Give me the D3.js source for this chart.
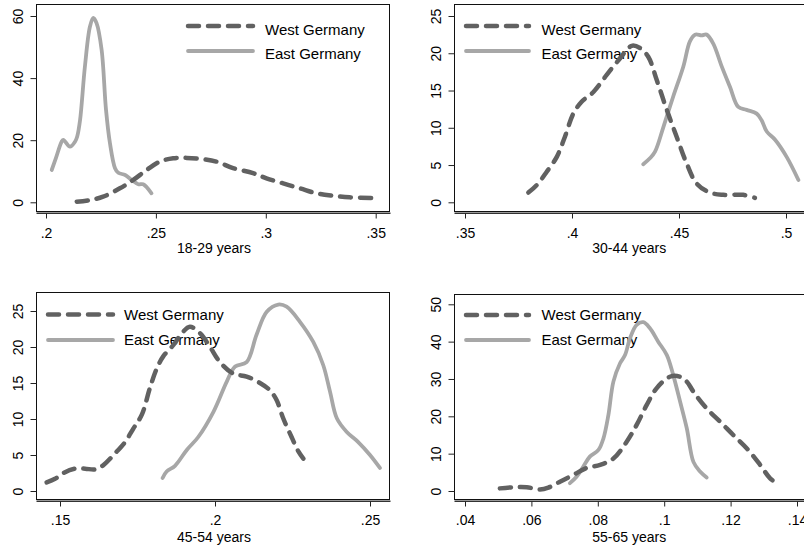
<!DOCTYPE html>
<html>
<head>
<meta charset="utf-8">
<script src="https://cdn.jsdelivr.net/npm/d3@7"></script>
<style>
  body { margin: 0; background: #fff; }
  svg { display: block; font-family: "Liberation Sans", Arial, sans-serif; }
</style>
</head>
<body>
<svg width="804" height="549"></svg>
<script>
/* ---------------- data ---------------- */
var ageGroups = ['18-29 years', '30-44 years', '45-54 years', '55-65 years'];
var seriesNames = ['West Germany', 'East Germany'];

var xTicks = [
  [0.2, 0.25, 0.3, 0.35],
  [0.35, 0.4, 0.45, 0.5],
  [0.15, 0.2, 0.25],
  [0.04, 0.06, 0.08, 0.1, 0.12, 0.14]
];
var yTicks = [
  [0, 20, 40, 60],
  [0, 5, 10, 15, 20, 25],
  [0, 5, 10, 15, 20, 25],
  [0, 10, 20, 30, 40, 50]
];

// [share, density]
var west_18_29 = [[.214,.2],[.22,.7],[.226,1.8],[.2336,4.5],[.2397,7.2],[.2458,10.4],[.2518,13.1],[.2579,14.2],
  [.264,14.3],[.2715,13.9],[.2776,13.1],[.2851,11],[.2942,9.4],[.3003,7.7],[.3079,6.1],[.3155,4.5],[.323,2.9],
  [.3306,2.1],[.3382,1.6],[.3495,1.4]];
var east_18_29 = [[.2026,10.4],[.2045,14.2],[.2071,19.5],[.2079,20.1],[.2109,17.9],[.2132,19.5],[.2142,21.2],
  [.2155,26.5],[.2177,43.7],[.22,56.6],[.2215,59.4],[.223,57.7],[.2253,49.1],[.2273,29.8],[.2291,19],[.2314,11],
  [.2329,9.5],[.236,8.8],[.239,7.2],[.242,5.8],[.2442,5.8],[.248,2.9]];

var west_30_44 = [[.3796,1.3],[.3835,2.3],[.3882,4.1],[.3929,6.1],[.3967,8.8],[.4006,11.9],[.4045,13.5],[.41,14.8],
  [.4162,17.1],[.4224,19.3],[.4279,21],[.4318,20.7],[.4357,19.5],[.4396,16.4],[.4443,12.4],[.4489,8.8],[.4536,5.2],
  [.4583,2.5],[.4645,1.3],[.4707,1],[.48,1],[.4855,.6]];
var east_30_44 = [[.4333,5.1],[.4364,5.9],[.4388,6.8],[.4427,10.1],[.4473,14.2],[.452,18.2],[.4551,21.6],[.4575,22.5],
  [.4606,22.4],[.4629,22.5],[.466,21.3],[.47,18.2],[.4738,15.5],[.4777,12.8],[.4816,12.4],[.4863,11.9],[.4886,11],
  [.491,9.5],[.4949,8.4],[.5003,6.1],[.5058,3]];

var west_45_54 = [[.1457,1.2],[.1484,1.7],[.1511,2.5],[.1548,3.1],[.1581,3.1],[.1613,3],[.164,3.6],[.1677,5.2],
  [.171,6.8],[.1737,8.7],[.1764,10.6],[.179,14.3],[.1812,17],[.1833,18.7],[.1866,20.3],[.1893,21.9],[.1919,22.8],
  [.1952,21.9],[.1984,20],[.2016,17.9],[.2059,16.3],[.2102,15.9],[.2145,15],[.2177,14],[.2199,12.6],[.222,10.1],
  [.2247,7.5],[.2269,5.5],[.2285,4.5]];
var east_45_54 = [[.1831,1.8],[.1844,2.7],[.1871,3.5],[.1909,5.7],[.1946,7.5],[.1995,11],[.2038,15.2],[.2065,17.3],
  [.2102,17.9],[.2134,21.7],[.2167,24.9],[.2204,25.9],[.2231,25.6],[.2274,23.5],[.2317,20.7],[.2349,17.5],
  [.2371,13.8],[.2393,10.1],[.2425,8.2],[.2462,6.8],[.25,5],[.2532,3.2]];

var west_55_65 = [[.0505,.7],[.0545,1],[.0586,1],[.0626,.4],[.0651,.9],[.0686,2.5],[.0726,4.3],[.0767,6.2],
  [.0807,7],[.0847,8.7],[.0887,13.2],[.0917,17.7],[.0947,23],[.0977,27.5],[.1017,30.6],[.1048,30.6],[.1068,29.3],
  [.1088,26.6],[.1128,22.1],[.1168,18.6],[.1208,15],[.1249,11.4],[.1289,7],[.1319,3.4],[.1344,1.8]];
var east_55_65 = [[.0716,2.1],[.0736,3.8],[.0756,6.5],[.0776,9.2],[.0802,11],[.0817,14.1],[.0832,20.4],[.0847,29.3],
  [.0867,34.2],[.0882,36.4],[.0897,40.9],[.0917,44.5],[.0937,45.2],[.0957,43.6],[.0982,40],[.1008,36.4],
  [.1027,31.1],[.1048,23.9],[.1068,16.8],[.1088,7.8],[.1108,5.2],[.1128,3.6]];

var westSeries = [west_18_29, west_30_44, west_45_54, west_55_65];
var eastSeries = [east_18_29, east_30_44, east_45_54, east_55_65];

/* ---------------- layout (pixels) ---------------- */
var layout = [
  { box: [36.5, 389.5, 4.5, 211.5], xr: [46, 375.7], yr: [202.3, 16], pad: 10, title: 253,
    leg: { x0: 188, x1: 253, tx: 265, ly: [26, 51], tb: [34.5, 58.5] } },
  { box: [454.5, 806, 4.5, 211.5], xr: [465, 786], yr: [202.3, 16], pad: 10, title: 253,
    leg: { x0: 466, x1: 529, tx: 541.5, ly: [26, 51], tb: [34.5, 58.5] } },
  { box: [36.5, 389.5, 292.5, 499.5], xr: [60, 370], yr: [491, 311], pad: 8.5, title: 541.5,
    leg: { x0: 48, x1: 113, tx: 124, ly: [314.5, 340], tb: [319.8, 345] } },
  { box: [454.5, 806, 294.5, 499.5], xr: [465, 797], yr: [491, 304.3], pad: 8.5, title: 541.5,
    leg: { x0: 466, x1: 529, tx: 541.5, ly: [315, 340], tb: [320.3, 345] } }
];

var westColor = '#616161', eastColor = '#a7a7a7';
var fmt = function (d) { return String(d).replace(/^0\./, '.'); };

var svg = d3.select('svg');

layout.forEach(function (L, i) {
  var g = svg.append('g');
  var x = d3.scaleLinear().domain([xTicks[i][0], xTicks[i][xTicks[i].length - 1]]).range(L.xr);
  var y = d3.scaleLinear().domain([yTicks[i][0], yTicks[i][yTicks[i].length - 1]]).range(L.yr);
  var x0 = L.box[0], x1 = L.box[1], top = L.box[2], bot = L.box[3];

  // plot region frame
  g.append('rect')
    .attr('x', x0).attr('y', top)
    .attr('width', x1 - x0).attr('height', bot - top)
    .attr('fill', '#fff').attr('stroke', '#111').attr('stroke-width', 1);

  // x axis line (double line look)
  g.append('line').attr('x1', x0).attr('x2', x1 + 1).attr('y1', bot + 1).attr('y2', bot + 1)
    .attr('stroke', '#999').attr('stroke-width', 1);
  g.append('line').attr('x1', x0).attr('x2', x1 + 1).attr('y1', bot + 2).attr('y2', bot + 2)
    .attr('stroke', '#333').attr('stroke-width', 1);

  var xAxis = d3.axisBottom(x).tickValues(xTicks[i]).tickSize(5).tickSizeOuter(0)
    .tickPadding(L.pad).tickFormat(fmt);
  var gx = g.append('g').attr('transform', 'translate(0,' + (bot + 2) + ')').call(xAxis);
  gx.select('.domain').remove();
  gx.selectAll('.tick line').attr('stroke', '#222');
  gx.selectAll('.tick text').attr('font-size', 14).attr('fill', '#000')
    .attr('font-family', '"Liberation Sans", Arial, sans-serif');

  var yAxis = d3.axisLeft(y).tickValues(yTicks[i]).tickSize(6).tickSizeOuter(0).tickFormat(fmt);
  var gy = g.append('g').attr('transform', 'translate(' + x0 + ',0)').call(yAxis);
  gy.select('.domain').remove();
  gy.selectAll('.tick line').attr('stroke', '#222');
  gy.selectAll('.tick text')
    .attr('x', 0).attr('dy', 0)
    .attr('text-anchor', 'middle')
    .attr('transform', 'translate(-13.5,0) rotate(-90)')
    .attr('font-size', 14).attr('fill', '#000')
    .attr('font-family', '"Liberation Sans", Arial, sans-serif');

  // axis title
  g.append('text')
    .attr('x', (x0 + Math.min(x1, 804)) / 2 + (i % 2 ? 0 : 1))
    .attr('y', L.title)
    .attr('text-anchor', 'middle')
    .attr('font-size', 14)
    .text(ageGroups[i]);

  // legend (under the curves, as in the original)
  var legColors = [westColor, eastColor];
  seriesNames.forEach(function (name, k) {
    g.append('line')
      .attr('x1', L.leg.x0).attr('x2', L.leg.x1)
      .attr('y1', L.leg.ly[k]).attr('y2', L.leg.ly[k])
      .attr('stroke', legColors[k])
      .attr('stroke-width', k ? 3.8 : 4.5)
      .attr('stroke-linecap', 'round')
      .attr('stroke-dasharray', k ? null : '11,9');
    g.append('text')
      .attr('x', L.leg.tx).attr('y', L.leg.tb[k])
      .attr('font-size', 15)
      .text(name);
  });

  var line = d3.line()
    .x(function (d) { return x(d[0]); })
    .y(function (d) { return y(d[1]); })
    .curve(d3.curveCatmullRom.alpha(0.5));

  g.append('path').datum(eastSeries[i])
    .attr('d', line)
    .attr('fill', 'none').attr('stroke', eastColor)
    .attr('stroke-width', 3.8).attr('stroke-linecap', 'round').attr('stroke-linejoin', 'round');

  g.append('path').datum(westSeries[i])
    .attr('d', line)
    .attr('fill', 'none').attr('stroke', westColor)
    .attr('stroke-width', 4.5).attr('stroke-linecap', 'round').attr('stroke-linejoin', 'round')
    .attr('stroke-dasharray', '11,9');
});
</script>
</body>
</html>
